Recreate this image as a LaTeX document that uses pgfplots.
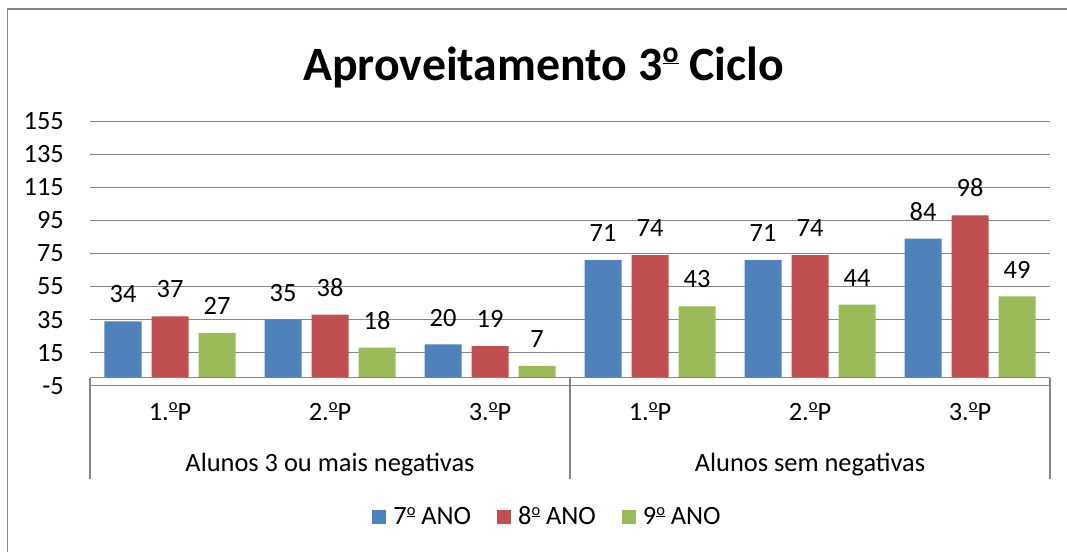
\documentclass[border=0pt]{standalone}
\usepackage{pgfplots}
\pgfplotsset{compat=1.18}
\usepackage{fontspec}
\setmainfont{Carlito}
\definecolor{c7}{HTML}{4F81BD}
\definecolor{c8}{HTML}{C0504D}
\definecolor{c9}{HTML}{9BBB59}
\definecolor{gridc}{HTML}{868686}
\newcommand{\lbl}{\fontsize{26.5}{30}\selectfont}
\newcommand{\ord}{\raisebox{0.37em}[0pt][0pt]{\scalebox{0.62}{\underline{o}}}}
\newcommand{\fx}[1]{\raisebox{0pt}[17bp][0pt]{#1}}
\begin{document}
\begin{tikzpicture}
\useasboundingbox (0bp,0bp) rectangle (1067bp,-552bp);
\fill[white] (0bp,0bp) rectangle (1067bp,-552bp);
\draw[gridc, line width=1.5bp] (7.5bp,-552bp) -- (7.5bp,-9bp) -- (1067bp,-9bp);
\node[anchor=base, font=\bfseries\fontsize{48}{52}\selectfont] at (543.5bp,-80bp) {Aproveitamento 3\ord{} Ciclo};
\begin{axis}[
  at={(90bp,-385.8bp)}, anchor=south west,
  scale only axis, width=960bp, height=264.8bp,
  xmin=-0.5, xmax=5.5, ymin=-5, ymax=155,
  clip=false,
  axis line style={draw=none},
  major tick length=0pt,
  ybar=10bp, bar width=37bp,
  ytick={-5,15,...,155},
  ymajorgrids, grid style={gridc, line width=1bp},
  /pgf/number format/assume math mode=true,
  yticklabel style={anchor=east, inner sep=0pt, xshift=-26bp, font=\lbl},
  xtick={0,...,5},
  xticklabels={1.\ord P,2.\ord P,3.\ord P,1.\ord P,2.\ord P,3.\ord P},
  xticklabel style={anchor=center, inner sep=0pt, yshift=-26bp, font=\lbl},
  nodes near coords,
  every node near coord/.append style={font=\lbl, inner sep=0pt, yshift=18bp, black},
  legend columns=3,
  legend image code/.code={\fill[#1] (0bp,-7bp) rectangle (14bp,7bp);},
  legend style={at={(0.4766,-0.4955)}, anchor=center, draw=none, fill=none,
    inner sep=0pt, font=\lbl,
    /tikz/every odd column/.append style={column sep=5bp},
    /tikz/every even column/.append style={column sep=24bp}},
]
\addplot[fill=c7, draw=none] coordinates {(0,34) (1,35) (2,20) (3,71) (4,71) (5,84)};
\addplot[fill=c8, draw=none] coordinates {(0,37) (1,38) (2,19) (3,74) (4,74) (5,98)};
\addplot[fill=c9, draw=none] coordinates {(0,27) (1,18) (2,7) (3,43) (4,44) (5,49)};
\legend{\fx{7\ord{} ANO}, \fx{8\ord{} ANO}, \fx{9\ord{} ANO}}
\draw[gridc, line width=1bp] (axis cs:-0.5,0) -- (axis cs:5.5,0);
\draw[gridc, line width=1.5bp] (axis cs:-0.5,0) -- ++(0bp,-101.5bp);
\draw[gridc, line width=1.5bp] (axis cs:2.5,0) -- ++(0bp,-101.5bp);
\draw[gridc, line width=1.5bp] (axis cs:5.5,0) -- ++(0bp,-101.5bp);
\node[anchor=base, font=\lbl, inner sep=0pt] at (axis cs:1,-5) [yshift=-85.7bp] {Alunos 3 ou mais negativas};
\node[anchor=base, font=\lbl, inner sep=0pt] at (axis cs:4,-5) [yshift=-85.7bp] {Alunos sem negativas};
\end{axis}
\end{tikzpicture}
\end{document}
